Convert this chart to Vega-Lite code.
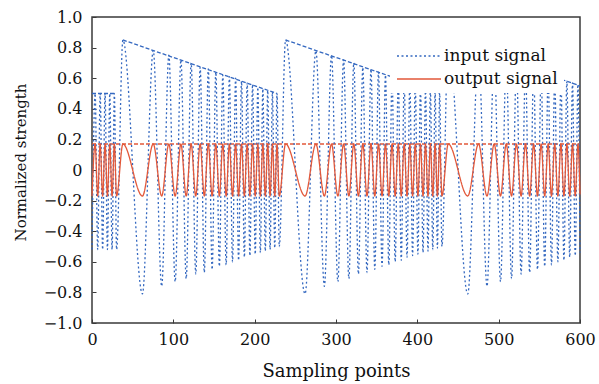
{
  "$schema": "https://vega.github.io/schema/vega-lite/v6.json",
  "width": 488,
  "height": 306,
  "autosize": {"type": "none"},
  "padding": {"left": 92, "top": 17, "right": 19, "bottom": 61},
  "background": "white",
  "config": {
    "view": {"stroke": "#3a3a3a", "strokeWidth": 1.5},
    "font": "DejaVu Serif"
  },
  "datasets": {
    "sig": [
      {"x": 0, "input signal": -0.52, "output signal": -0.17},
      {"x": 3.86, "input signal": 0.50, "output signal": 0.17},
      {"x": 6.99, "input signal": -0.52, "output signal": -0.17},
      {"x": 10.06, "input signal": 0.50, "output signal": 0.17},
      {"x": 13.08, "input signal": -0.52, "output signal": -0.17},
      {"x": 16.05, "input signal": 0.50, "output signal": 0.17},
      {"x": 18.97, "input signal": -0.52, "output signal": -0.17},
      {"x": 21.85, "input signal": 0.50, "output signal": 0.17},
      {"x": 24.69, "input signal": -0.52, "output signal": -0.17},
      {"x": 27.49, "input signal": 0.50, "output signal": 0.17},
      {"x": 30.25, "input signal": -0.52, "output signal": -0.17},
      {"x": 38.00, "input signal": 0.85, "output signal": 0.17},
      {"x": 61.99, "input signal": -0.81, "output signal": -0.17},
      {"x": 75.30, "input signal": 0.78, "output signal": 0.17},
      {"x": 85.68, "input signal": -0.76, "output signal": -0.17},
      {"x": 94.49, "input signal": 0.75, "output signal": 0.17},
      {"x": 102.28, "input signal": -0.73, "output signal": -0.17},
      {"x": 109.33, "input signal": 0.72, "output signal": 0.17},
      {"x": 115.83, "input signal": -0.71, "output signal": -0.17},
      {"x": 121.89, "input signal": 0.70, "output signal": 0.17},
      {"x": 127.58, "input signal": -0.68, "output signal": -0.17},
      {"x": 132.97, "input signal": 0.67, "output signal": 0.17},
      {"x": 138.10, "input signal": -0.67, "output signal": -0.17},
      {"x": 143.00, "input signal": 0.66, "output signal": 0.17},
      {"x": 147.71, "input signal": -0.65, "output signal": -0.17},
      {"x": 152.24, "input signal": 0.64, "output signal": 0.17},
      {"x": 156.61, "input signal": -0.63, "output signal": -0.17},
      {"x": 160.83, "input signal": 0.62, "output signal": 0.17},
      {"x": 164.93, "input signal": -0.62, "output signal": -0.17},
      {"x": 168.91, "input signal": 0.61, "output signal": 0.17},
      {"x": 172.78, "input signal": -0.60, "output signal": -0.17},
      {"x": 176.56, "input signal": 0.60, "output signal": 0.17},
      {"x": 180.24, "input signal": -0.59, "output signal": -0.17},
      {"x": 183.83, "input signal": 0.58, "output signal": 0.17},
      {"x": 187.34, "input signal": -0.57, "output signal": -0.17},
      {"x": 190.78, "input signal": 0.57, "output signal": 0.17},
      {"x": 194.15, "input signal": -0.56, "output signal": -0.17},
      {"x": 197.45, "input signal": 0.56, "output signal": 0.17},
      {"x": 200.69, "input signal": -0.55, "output signal": -0.17},
      {"x": 203.86, "input signal": 0.54, "output signal": 0.17},
      {"x": 206.99, "input signal": -0.54, "output signal": -0.17},
      {"x": 210.06, "input signal": 0.53, "output signal": 0.17},
      {"x": 213.08, "input signal": -0.53, "output signal": -0.17},
      {"x": 216.05, "input signal": 0.52, "output signal": 0.17},
      {"x": 218.97, "input signal": -0.52, "output signal": -0.17},
      {"x": 221.85, "input signal": 0.51, "output signal": 0.17},
      {"x": 224.69, "input signal": -0.51, "output signal": -0.17},
      {"x": 227.49, "input signal": 0.50, "output signal": 0.17},
      {"x": 230.25, "input signal": -0.50, "output signal": -0.17},
      {"x": 238.00, "input signal": 0.85, "output signal": 0.17},
      {"x": 261.99, "input signal": -0.81, "output signal": -0.17},
      {"x": 275.30, "input signal": 0.78, "output signal": 0.17},
      {"x": 285.68, "input signal": -0.76, "output signal": -0.17},
      {"x": 294.49, "input signal": 0.75, "output signal": 0.17},
      {"x": 302.28, "input signal": -0.73, "output signal": -0.17},
      {"x": 309.33, "input signal": 0.72, "output signal": 0.17},
      {"x": 315.83, "input signal": -0.71, "output signal": -0.17},
      {"x": 321.89, "input signal": 0.70, "output signal": 0.17},
      {"x": 327.58, "input signal": -0.68, "output signal": -0.17},
      {"x": 332.97, "input signal": 0.67, "output signal": 0.17},
      {"x": 338.10, "input signal": -0.67, "output signal": -0.17},
      {"x": 343.00, "input signal": 0.66, "output signal": 0.17},
      {"x": 347.71, "input signal": -0.65, "output signal": -0.17},
      {"x": 352.24, "input signal": 0.64, "output signal": 0.17},
      {"x": 356.61, "input signal": -0.63, "output signal": -0.17},
      {"x": 360.83, "input signal": 0.62, "output signal": 0.17},
      {"x": 364.93, "input signal": -0.62, "output signal": -0.17},
      {"x": 368.91, "input signal": 0.61, "output signal": 0.17},
      {"x": 372.78, "input signal": -0.60, "output signal": -0.17},
      {"x": 376.56, "input signal": 0.60, "output signal": 0.17},
      {"x": 380.24, "input signal": -0.59, "output signal": -0.17},
      {"x": 383.83, "input signal": 0.58, "output signal": 0.17},
      {"x": 387.34, "input signal": -0.57, "output signal": -0.17},
      {"x": 390.78, "input signal": 0.57, "output signal": 0.17},
      {"x": 394.15, "input signal": -0.56, "output signal": -0.17},
      {"x": 397.45, "input signal": 0.56, "output signal": 0.17},
      {"x": 400.69, "input signal": -0.55, "output signal": -0.17},
      {"x": 403.86, "input signal": 0.54, "output signal": 0.17},
      {"x": 406.99, "input signal": -0.54, "output signal": -0.17},
      {"x": 410.06, "input signal": 0.53, "output signal": 0.17},
      {"x": 413.08, "input signal": -0.53, "output signal": -0.17},
      {"x": 416.05, "input signal": 0.52, "output signal": 0.17},
      {"x": 418.97, "input signal": -0.52, "output signal": -0.17},
      {"x": 421.85, "input signal": 0.51, "output signal": 0.17},
      {"x": 424.69, "input signal": -0.51, "output signal": -0.17},
      {"x": 427.49, "input signal": 0.50, "output signal": 0.17},
      {"x": 430.25, "input signal": -0.50, "output signal": -0.17},
      {"x": 438.00, "input signal": 0.85, "output signal": 0.17},
      {"x": 461.99, "input signal": -0.81, "output signal": -0.17},
      {"x": 475.30, "input signal": 0.78, "output signal": 0.17},
      {"x": 485.68, "input signal": -0.76, "output signal": -0.17},
      {"x": 494.49, "input signal": 0.75, "output signal": 0.17},
      {"x": 502.28, "input signal": -0.73, "output signal": -0.17},
      {"x": 509.33, "input signal": 0.72, "output signal": 0.17},
      {"x": 515.83, "input signal": -0.71, "output signal": -0.17},
      {"x": 521.89, "input signal": 0.70, "output signal": 0.17},
      {"x": 527.58, "input signal": -0.68, "output signal": -0.17},
      {"x": 532.97, "input signal": 0.67, "output signal": 0.17},
      {"x": 538.10, "input signal": -0.67, "output signal": -0.17},
      {"x": 543.00, "input signal": 0.66, "output signal": 0.17},
      {"x": 547.71, "input signal": -0.65, "output signal": -0.17},
      {"x": 552.24, "input signal": 0.64, "output signal": 0.17},
      {"x": 556.61, "input signal": -0.63, "output signal": -0.17},
      {"x": 560.83, "input signal": 0.62, "output signal": 0.17},
      {"x": 564.93, "input signal": -0.62, "output signal": -0.17},
      {"x": 568.91, "input signal": 0.61, "output signal": 0.17},
      {"x": 572.78, "input signal": -0.60, "output signal": -0.17},
      {"x": 576.56, "input signal": 0.60, "output signal": 0.17},
      {"x": 580.24, "input signal": -0.59, "output signal": -0.17},
      {"x": 583.83, "input signal": 0.58, "output signal": 0.17},
      {"x": 587.34, "input signal": -0.57, "output signal": -0.17},
      {"x": 590.78, "input signal": 0.57, "output signal": 0.17},
      {"x": 594.15, "input signal": -0.56, "output signal": -0.17},
      {"x": 597.45, "input signal": 0.56, "output signal": 0.17},
      {"x": 600.00, "input signal": -0.54, "output signal": -0.16}
    ],
    "env": [
      {"series": "input signal", "seg": "a", "x": 0, "y": 0.50},
      {"series": "input signal", "seg": "a", "x": 27.49, "y": 0.50},
      {"series": "input signal", "seg": "b", "x": 38, "y": 0.85},
      {"series": "input signal", "seg": "b", "x": 227.49, "y": 0.50},
      {"series": "input signal", "seg": "c", "x": 238, "y": 0.85},
      {"series": "input signal", "seg": "c", "x": 427.49, "y": 0.50},
      {"series": "input signal", "seg": "d", "x": 438, "y": 0.85},
      {"series": "input signal", "seg": "d", "x": 600, "y": 0.55},
      {"series": "output signal", "seg": "r", "x": 0, "y": 0.17},
      {"series": "output signal", "seg": "r", "x": 600, "y": 0.17}
    ]
  },
  "layer": [
    {
      "data": {"name": "env"},
      "mark": {"type": "line", "strokeDash": [4, 2], "strokeWidth": 1.3},
      "encoding": {
        "x": {"field": "x", "type": "quantitative"},
        "y": {"field": "y", "type": "quantitative"},
        "detail": {"field": "seg"},
        "color": {"field": "series", "type": "nominal"}
      }
    },
    {
      "data": {"name": "sig"},
      "transform": [{"fold": ["input signal", "output signal"], "as": ["series", "y"]}],
      "mark": {"type": "line", "interpolate": "monotone", "strokeWidth": 1.3},
      "encoding": {
        "x": {"field": "x", "type": "quantitative"},
        "y": {"field": "y", "type": "quantitative"},
        "color": {"field": "series", "type": "nominal"},
        "strokeDash": {"field": "series", "type": "nominal",
          "scale": {"domain": ["input signal", "output signal"], "range": [[2, 2.5], [1, 0]]}}
      }
    }
  ],
  "encoding": {
    "x": {
      "field": "x", "type": "quantitative",
      "scale": {"domain": [0, 600], "nice": false, "zero": false},
      "axis": {
        "title": "Sampling points",
        "values": [0, 100, 200, 300, 400, 500, 600],
        "grid": false, "domain": false,
        "tickSize": -4, "tickColor": "#3a3a3a",
        "labelFontSize": 16, "labelColor": "#111", "labelPadding": 12,
        "labelFlush": false,
        "titleFontSize": 18, "titleFontWeight": "normal", "titleColor": "#111",
        "titleY": 48, "titleBaseline": "middle"
      }
    },
    "y": {
      "field": "y", "type": "quantitative",
      "scale": {"domain": [-1, 1], "nice": false},
      "axis": {
        "title": "Normalized strength",
        "values": [-1, -0.8, -0.6, -0.4, -0.2, 0, 0.2, 0.4, 0.6, 0.8, 1],
        "labelExpr": "datum.value == 0 ? '0' : format(datum.value, '.1f')",
        "grid": false, "domain": false,
        "tickSize": -4, "tickColor": "#3a3a3a",
        "labelFontSize": 16, "labelColor": "#111", "labelPadding": 14,
        "labelFlush": false,
        "titleFontSize": 15, "titleFontWeight": "normal", "titleColor": "#111",
        "titleX": -72, "titleY": 145, "titleBaseline": "middle"
      }
    },
    "color": {
      "field": "series", "type": "nominal",
      "scale": {"domain": ["input signal", "output signal"], "range": ["#3468c0", "#e2583a"]},
      "legend": {
        "title": null, "orient": "none", "legendX": 298, "legendY": 21,
        "fillColor": "white", "padding": 6,
        "symbolType": "M-2,0H2", "symbolSize": 484, "symbolOffset": 11,
        "symbolStrokeWidth": 1.4,
        "labelFontSize": 17, "labelColor": "#111", "labelOffset": 13,
        "rowPadding": 3
      }
    }
  }
}
